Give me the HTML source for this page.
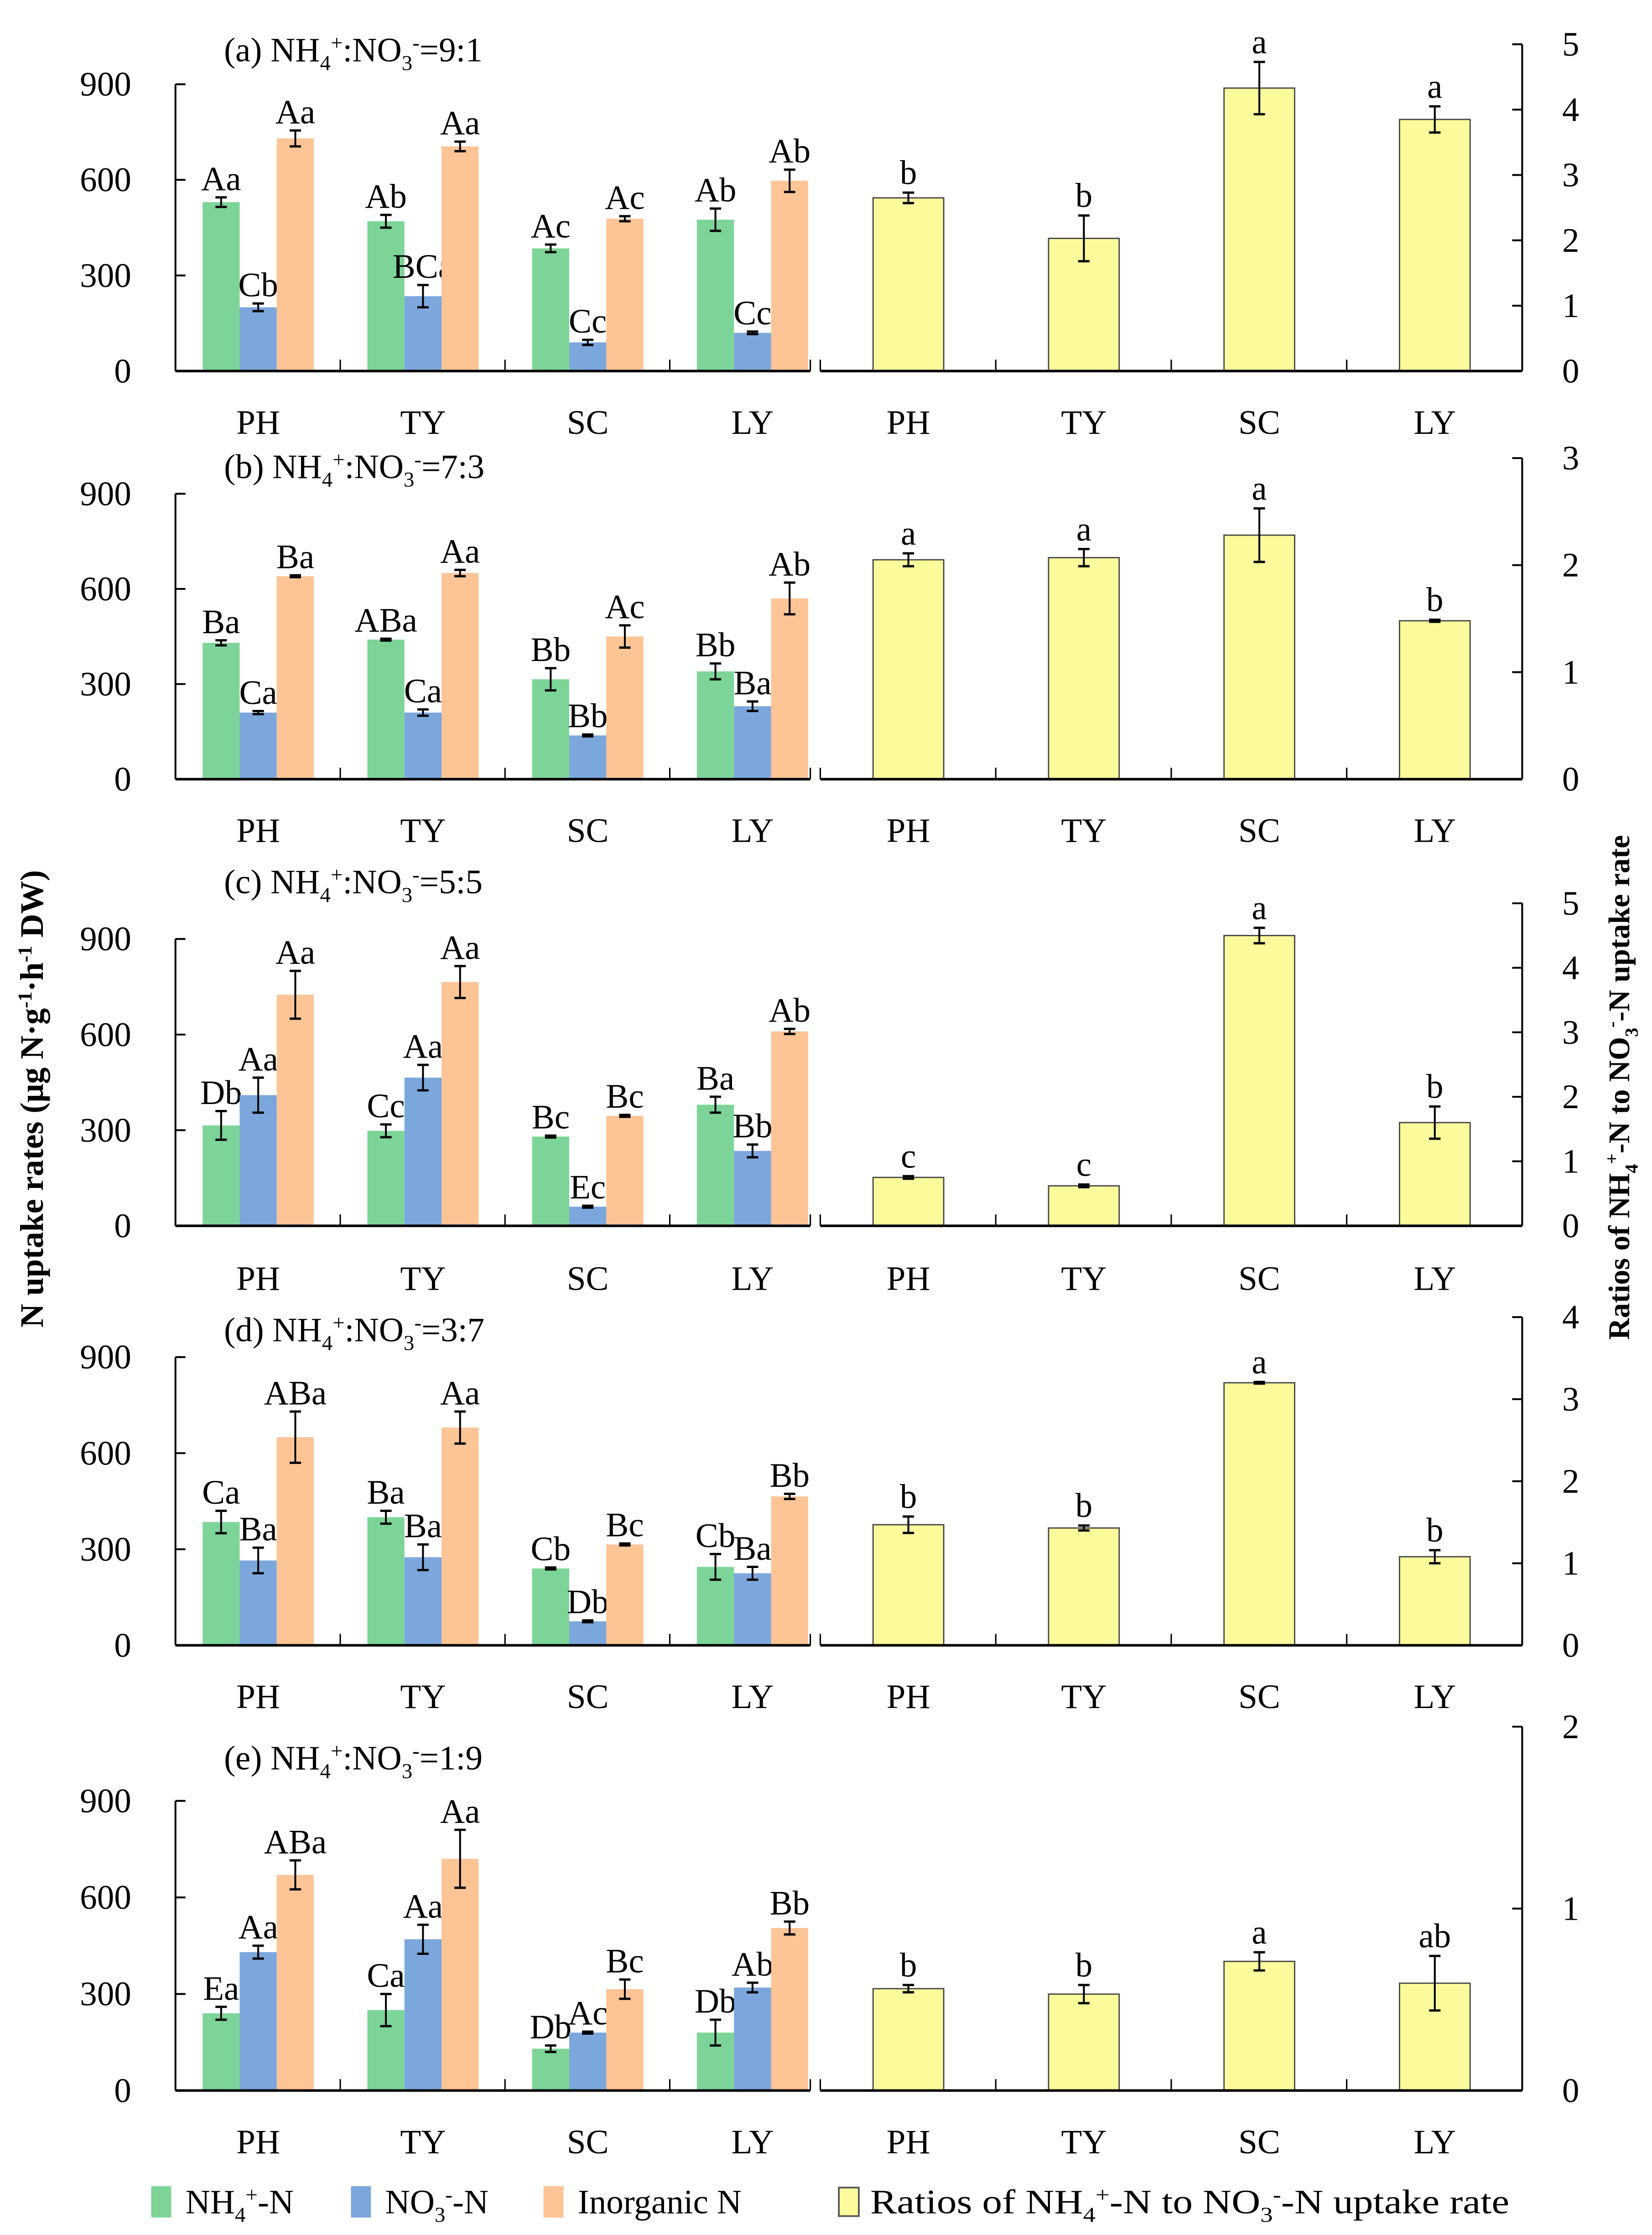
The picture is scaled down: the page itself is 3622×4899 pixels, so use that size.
<!DOCTYPE html>
<html><head><meta charset="utf-8"><style>
html,body{margin:0;padding:0;background:#fff}
svg{display:block}
text{font-family:"Liberation Serif",serif;fill:#000}
</style></head><body>
<svg id="chart" xmlns="http://www.w3.org/2000/svg" width="3622" height="4899" viewBox="0 0 1158 1566.2">
<g id="root"></g>
<text transform="translate(30,770) rotate(-90)" text-anchor="middle" font-size="23" font-weight="bold">N uptake rates (μg N·g<tspan font-size="14" dy="-8">-1</tspan><tspan dy="8">·h</tspan><tspan font-size="14" dy="-8">-1</tspan><tspan dy="8"> DW)</tspan></text>
<text transform="translate(1142,762) rotate(-90)" text-anchor="middle" font-size="21" font-weight="bold">Ratios of NH<tspan font-size="13" dy="6">4</tspan><tspan font-size="13" dy="-14">+</tspan><tspan dy="8">-N to NO</tspan><tspan font-size="13" dy="6">3</tspan><tspan font-size="13" dy="-14">-</tspan><tspan dy="8">-N uptake rate</tspan></text>
<g font-size="24">
<rect x="106" y="1532" width="14" height="22" fill="#7dd498"/>
<text x="130" y="1551">NH<tspan font-size="15" dy="6">4</tspan><tspan font-size="15" dy="-14">+</tspan><tspan dy="8">-N</tspan></text>
<rect x="246" y="1532" width="14" height="22" fill="#7ba7dc"/>
<text x="270" y="1551">NO<tspan font-size="15" dy="6">3</tspan><tspan font-size="15" dy="-14">-</tspan><tspan dy="8">-N</tspan></text>
<rect x="381" y="1532" width="14" height="22" fill="#fdc496"/>
<text x="405" y="1551">Inorganic N</text>
<rect x="588" y="1533" width="14" height="20" fill="#fbfb9c" stroke="#555" stroke-width="1.2"/>
<text x="610" y="1551" textLength="448" lengthAdjust="spacingAndGlyphs">Ratios of NH<tspan font-size="15" dy="6">4</tspan><tspan font-size="15" dy="-14">+</tspan><tspan dy="8">-N to NO</tspan><tspan font-size="15" dy="6">3</tspan><tspan font-size="15" dy="-14">-</tspan><tspan dy="8">-N uptake rate</tspan></text>
</g>
</svg>
<script>
const categories = ["PH","TY","SC","LY"];
const panelTitles = ["(a)","(b)","(c)","(d)","(e)"];
const ratioTexts = ["9:1","7:3","5:5","3:7","1:9"];
const nh4Values = [[530,470,385,475],[430,440,315,340],[315,298,280,380],[385,400,240,245],[240,250,130,180]];
const nh4Err = [[15,20,12,35],[8,3,35,25],[45,20,3,25],[35,20,3,40],[20,50,10,40]];
const nh4Labels = [["Aa","Ab","Ac","Ab"],["Ba","ABa","Bb","Bb"],["Db","Cc","Bc","Ba"],["Ca","Ba","Cb","Cb"],["Ea","Ca","Db","Db"]];
const no3Values = [[200,235,90,120],[210,210,138,230],[410,465,60,235],[265,275,75,225],[430,470,180,320]];
const no3Err = [[12,35,8,4],[5,10,3,15],[55,40,3,20],[40,40,3,20],[20,45,3,15]];
const no3Labels = [["Cb","BCa","Cc","Cc"],["Ca","Ca","Bb","Ba"],["Aa","Aa","Ec","Bb"],["Ba","Ba","Db","Ba"],["Aa","Aa","Ac","Ab"]];
const inorgValues = [[730,705,478,597],[640,650,450,570],[725,765,345,610],[650,680,315,465],[670,720,315,505]];
const inorgErr = [[25,15,8,35],[3,10,35,50],[75,50,3,8],[80,50,3,8],[45,90,30,20]];
const inorgLabels = [["Aa","Aa","Ac","Ab"],["Ba","Aa","Ac","Ab"],["Aa","Aa","Bc","Ab"],["ABa","Aa","Bc","Bb"],["ABa","Aa","Bc","Bb"]];
const ratioValues = [[2.65,2.03,4.33,3.85],[2.05,2.07,2.28,1.48],[0.75,0.62,4.5,1.6],[1.47,1.43,3.2,1.08],[0.56,0.53,0.71,0.59]];
const ratioErr = [[0.08,0.35,0.4,0.2],[0.06,0.08,0.25,0.01],[0.02,0.02,0.12,0.25],[0.1,0.03,0.01,0.08],[0.02,0.05,0.05,0.15]];
const ratioLabels = [["b","b","a","a"],["a","a","a","b"],["c","c","a","b"],["b","b","a","b"],["b","b","a","ab"]];
const leftTicks = [0,300,600,900];
const rightMax = [5,3,5,4,2];

const NS="http://www.w3.org/2000/svg";
const root=document.getElementById('root');
const layout=[{y0:260,y900:59,yR:31,tt:35,cat:295},{y0:546,y900:346,yR:321,tt:327,cat:581},{y0:859,y900:658,yR:633,tt:618,cat:895},{y0:1153,y900:951,yR:923,tt:932,cat:1188},{y0:1465,y900:1262,yR:1210,tt:1232,cat:1500}];
const LX0=123,LX1=568,LP=115.5,RX0=575,RX1=1067,RP=123;
const FS=24;
function mk(tag,attrs,parent){const e=document.createElementNS(NS,tag);for(const k in attrs)e.setAttribute(k,attrs[k]);(parent||root).appendChild(e);return e;}
function line(x1,y1,x2,y2,p,w){return mk('line',{x1,y1,x2,y2,stroke:'#000','stroke-width':w||1.3},p);}
function errBar(x,yTop,yBot,p){line(x,yTop,x,yBot,p,1.3);line(x-4,yTop,x+4,yTop,p,1.6);line(x-4,yBot,x+4,yBot,p,1.6);}

for(let i=0;i<5;i++){
  const L=layout[i];
  const g=mk('g',{});
  
  
  const yL=v=>L.y0-(v/900)*(L.y0-L.y900);
  const yR=v=>L.y0-(v/rightMax[i])*(L.y0-L.yR);
  const t=mk('text',{x:157,y:L.tt+8,'font-size':FS},g);
  
  
  t.innerHTML=panelTitles[i]+'  NH<tspan font-size="15" dy="6">4</tspan><tspan font-size="15" dy="-14">+</tspan><tspan dy="8">:NO</tspan><tspan font-size="15" dy="6">3</tspan><tspan font-size="15" dy="-14">-</tspan><tspan dy="8">='+ratioTexts[i]+'</tspan>';
  const series=[[nh4Values,nh4Err,nh4Labels,'#7dd498','nh4'],[no3Values,no3Err,no3Labels,'#7ba7dc','no3'],[inorgValues,inorgErr,inorgLabels,'#fdc496','inorganic']];
  for(let c=0;c<4;c++){
    series.forEach((s,k)=>{
      const v=s[0][i][c],e=s[1][i][c];
      const x=LX0+c*LP+19+k*26;
      const r=mk('rect',{x:x,y:yL(v),width:26,height:L.y0-yL(v),fill:s[3]},g);
      
      
      errBar(x+13,yL(v+e),yL(Math.max(0,v-e)),g);
      const lt=mk('text',{x:x+13,y:yL(v+e)-5,'font-size':FS,'text-anchor':'middle'},g);
      
      
      lt.textContent=s[2][i][c];
    });
    const cl=mk('text',{x:LX0+c*LP+58,y:L.cat+9,'font-size':FS,'text-anchor':'middle'},g);
    
    
    cl.textContent=categories[c];
    const v=ratioValues[i][c],e=ratioErr[i][c];
    const bx=RX0+c*RP+37;
    const rb=mk('rect',{x:bx,y:yR(v),width:49.5,height:L.y0-yR(v),fill:'#fbfb9c',stroke:'#444','stroke-width':0.9},g);
    
    
    errBar(bx+24.75,yR(v+e),yR(Math.max(0,v-e)),g);
    const rl=mk('text',{x:bx+24.75,y:yR(v+e)-6,'font-size':FS,'text-anchor':'middle'},g);
    
    
    rl.textContent=ratioLabels[i][c];
    const cr=mk('text',{x:bx+24.75,y:L.cat+9,'font-size':FS,'text-anchor':'middle'},g);
    
    
    cr.textContent=categories[c];
  }
  line(LX0,L.y900,LX0,L.y0,g,1.3);
  line(LX0,L.y0,LX1,L.y0,g,1.8);
  for(let c=1;c<=4;c++){const x=Math.min(LX0+c*LP,LX1); line(x,L.y0,x,L.y0-8,g,1);}
  leftTicks.forEach(v=>{line(LX0,yL(v),LX0+7,yL(v),g,1.3);
    const tl=mk('text',{x:92,y:yL(v)+8,'font-size':FS,'text-anchor':'end'},g);
    
    
    tl.textContent=v;});
  line(RX1,L.yR,RX1,L.y0,g,1.3);
  line(RX0,L.y0,RX1,L.y0,g,1.8);
  for(let c=0;c<4;c++){line(RX0+c*RP,L.y0,RX0+c*RP,L.y0-8,g,1);}
  for(let v=0;v<=rightMax[i];v++){line(RX1-7,yR(v),RX1,yR(v),g,1.3);
    const tr=mk('text',{x:1101,y:yR(v)+8,'font-size':FS,'text-anchor':'middle'},g);
    
    
    tr.textContent=v;}
}
</script>
</body></html>
